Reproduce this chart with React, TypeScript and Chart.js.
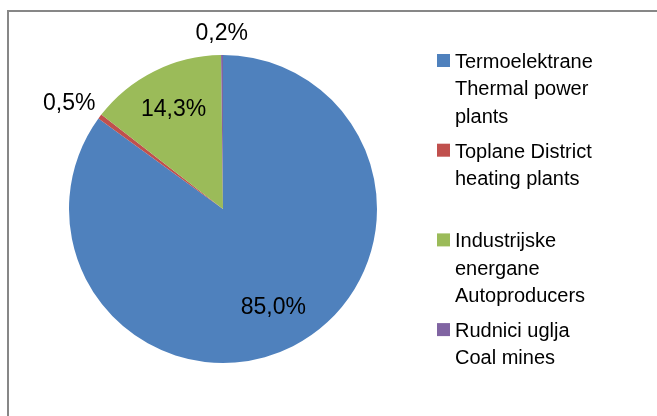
import React, { useEffect, useRef } from "react";
import { Chart, registerables } from "chart.js";

Chart.register(...registerables);

const categories: string[][] = [
  ["Termoelektrane", "Thermal power", "plants"],
  ["Toplane District", "heating plants"],
  ["Industrijske", "energane", "Autoproducers"],
  ["Rudnici uglja", "Coal mines"],
];
const values: number[] = [85.0, 0.5, 14.3, 0.2];
const valueLabels: string[] = ["85,0%", "0,5%", "14,3%", "0,2%"];
const insideLabel: boolean[] = [true, false, true, false];
const colors: string[] = ["#4F81BD", "#C0504D", "#9BBB59", "#8064A2"];

const LABEL_FONT = '23px "Liberation Sans", Arial, sans-serif';
const LEGEND_FONT = '20px "Liberation Sans", Arial, sans-serif';

const framePlugin = {
  id: "frame",
  beforeDraw(chart: any) {
    const ctx = chart.ctx;
    ctx.save();
    ctx.fillStyle = "#ffffff";
    ctx.fillRect(0, 0, chart.width, chart.height);
    ctx.strokeStyle = "#878787";
    ctx.lineWidth = 2;
    ctx.beginPath();
    ctx.moveTo(8, chart.height + 5);
    ctx.lineTo(8, 11);
    ctx.lineTo(chart.width + 5, 11);
    ctx.stroke();
    ctx.restore();
  },
};

const labelPlugin = {
  id: "sliceLabels",
  afterDatasetsDraw(chart: any) {
    const ctx = chart.ctx;
    const meta = chart.getDatasetMeta(0);
    ctx.save();
    ctx.font = LABEL_FONT;
    ctx.fillStyle = "#000000";
    ctx.textAlign = "center";
    ctx.textBaseline = "middle";
    meta.data.forEach((arc: any, i: number) => {
      const { x, y, startAngle, endAngle, outerRadius } = arc.getProps(
        ["x", "y", "startAngle", "endAngle", "outerRadius"],
        true
      );
      const mid = (startAngle + endAngle) / 2;
      const dx = Math.cos(mid);
      const dy = Math.sin(mid);
      const text = valueLabels[i];
      if (insideLabel[i]) {
        const r = outerRadius * 0.72;
        ctx.fillText(text, x + dx * r, y + dy * r);
      } else {
        const w = ctx.measureText(text).width;
        const r = outerRadius + 12;
        const px = x + dx * r + dx * (w / 2);
        const py = y + dy * r + dy * 9;
        ctx.fillText(text, px, py);
      }
    });
    ctx.restore();
  },
};

const legendPlugin = {
  id: "multiLegend",
  afterDraw(chart: any) {
    const ctx = chart.ctx;
    const boxX = 437;
    const textX = 455;
    const top0 = 54;
    const entryStep = 89.7;
    const lineStep = 27.3;
    const box = 13;
    ctx.save();
    ctx.font = LEGEND_FONT;
    ctx.textAlign = "left";
    ctx.textBaseline = "alphabetic";
    categories.forEach((lines, i) => {
      const top = top0 + i * entryStep;
      ctx.fillStyle = colors[i];
      ctx.fillRect(boxX, top, box, box);
      ctx.fillStyle = "#000000";
      lines.forEach((ln, j) => {
        ctx.fillText(ln, textX, top + 14 + j * lineStep);
      });
    });
    ctx.restore();
  },
};

export default function App() {
  const ref = useRef<HTMLCanvasElement | null>(null);
  useEffect(() => {
    if (!ref.current) return;
    const chart = new Chart(ref.current, {
      type: "pie",
      data: {
        labels: categories.map((c) => c.join(" ")),
        datasets: [
          {
            data: values,
            backgroundColor: colors,
            borderWidth: 0,
          },
        ],
      },
      options: {
        responsive: false,
        animation: false,
        layout: { padding: { top: 55, bottom: 53, left: 69, right: 280 } },
        plugins: {
          legend: { display: false },
          tooltip: { enabled: false },
        },
      },
      plugins: [framePlugin, labelPlugin, legendPlugin],
    });
    return () => chart.destroy();
  }, []);
  return (
    <div style={{ position: "absolute", left: 0, top: 0, width: 657, height: 416, background: "#fff" }}>
      <canvas ref={ref} width={657} height={416} />
    </div>
  );
}
